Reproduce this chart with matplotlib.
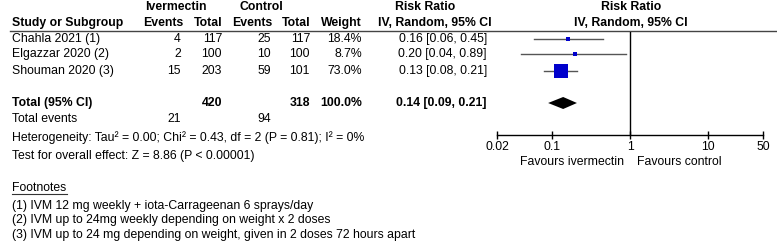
import matplotlib
matplotlib.use('Agg')
import matplotlib.pyplot as plt
import numpy as np

plt.rcParams['font.family'] = ['Liberation Sans', 'DejaVu Sans']
plt.rcParams['font.size'] = 8.8

# data
studies = ['Chahla 2021 (1)', 'Elgazzar 2020 (2)', 'Shouman 2020 (3)']
ivm_events = [4, 2, 15]
ivm_total = [117, 100, 203]
ctl_events = [25, 10, 59]
ctl_total = [117, 100, 101]
weights = [18.4, 8.7, 73.0]
rr = [0.16, 0.20, 0.13]
rr_lo = [0.06, 0.04, 0.08]
rr_hi = [0.45, 0.89, 0.21]
pooled = (0.14, 0.09, 0.21)
tot_ivm, tot_ctl = 420, 318
ev_ivm, ev_ctl = 21, 94
ticks = [0.02, 0.1, 1, 10, 50]
tick_labels = ['0.02', '0.1', '1', '10', '50']
footnotes = ['(1) IVM 12 mg weekly + iota-Carrageenan 6 sprays/day',
             '(2) IVM up to 24mg weekly depending on weight x 2 doses',
             '(3) IVM up to 24 mg depending on weight, given in 2 doses 72 hours apart']

W, H = 777, 246
fig = plt.figure(figsize=(W / 100, H / 100), dpi=100)
ax = fig.add_axes([0, 0, 1, 1])
ax.set_xlim(0, W)
ax.set_ylim(H, 0)
ax.axis('off')

row_y = [39, 54, 71]
tot_y = 103
bold = dict(fontweight='bold')

# headers
ax.text(176, 7, 'Ivermectin', ha='center', va='center', **bold)
ax.text(261, 7, 'Control', ha='center', va='center', **bold)
ax.text(425, 7, 'Risk Ratio', ha='center', va='center', **bold)
ax.text(631, 7, 'Risk Ratio', ha='center', va='center', **bold)
ax.text(12, 23, 'Study or Subgroup', ha='left', va='center', **bold)
for x, s in [(183, 'Events'), (222, 'Total'), (272, 'Events'), (310, 'Total'), (362, 'Weight')]:
    ax.text(x, 23, s, ha='right', va='center', **bold)
ax.text(492, 23, 'IV, Random, 95% CI', ha='right', va='center', **bold)
ax.text(631, 23, 'IV, Random, 95% CI', ha='center', va='center', **bold)
ax.plot([10, 777], [31, 31], color='#444444', lw=1)

# study rows
for i, y in enumerate(row_y):
    ax.text(12, y, studies[i], ha='left', va='center')
    ax.text(181, y, str(ivm_events[i]), ha='right', va='center')
    ax.text(222, y, str(ivm_total[i]), ha='right', va='center')
    ax.text(271, y, str(ctl_events[i]), ha='right', va='center')
    ax.text(310, y, str(ctl_total[i]), ha='right', va='center')
    ax.text(362, y, f'{weights[i]:.1f}%', ha='right', va='center')
    ax.text(487, y, f'{rr[i]:.2f} [{rr_lo[i]:.2f}, {rr_hi[i]:.2f}]', ha='right', va='center')

ax.text(12, tot_y, 'Total (95% CI)', ha='left', va='center', **bold)
ax.text(222, tot_y, str(tot_ivm), ha='right', va='center', **bold)
ax.text(310, tot_y, str(tot_ctl), ha='right', va='center', **bold)
ax.text(362, tot_y, '100.0%', ha='right', va='center', **bold)
ax.text(487, tot_y, f'{pooled[0]:.2f} [{pooled[1]:.2f}, {pooled[2]:.2f}]', ha='right', va='center', **bold)

ax.text(12, 119, 'Total events', ha='left', va='center')
ax.text(181, 119, str(ev_ivm), ha='right', va='center')
ax.text(271, 119, str(ev_ctl), ha='right', va='center')
ax.text(12, 138, 'Heterogeneity: Tau\u00b2 = 0.00; Chi\u00b2 = 0.43, df = 2 (P = 0.81); I\u00b2 = 0%',
        ha='left', va='center')
ax.text(12, 156, 'Test for overall effect: Z = 8.86 (P < 0.00001)', ha='left', va='center')

ax.text(12, 188, 'Footnotes', ha='left', va='center')
ax.plot([12, 67], [194, 194], color='#333333', lw=0.8)
for k, s in enumerate(footnotes):
    ax.text(12, 206 + k * 14.5, s, ha='left', va='center')

# forest axes: log scale, x pixel 497..763, y pixel 32..135
x0, x1, y0, y1 = 497, 763, 32, 135
fx = fig.add_axes([x0 / W, 1 - y1 / H, (x1 - x0) / W, (y1 - y0) / H])
fx.set_xscale('log')
fx.set_xlim(0.02, 50)
fx.set_ylim(y1, y0)
fx.patch.set_alpha(0)
for sp in ['top', 'left', 'right']:
    fx.spines[sp].set_visible(False)
fx.spines['bottom'].set_linewidth(1)
fx.set_xticks(ticks)
fx.set_xticklabels(tick_labels)
fx.xaxis.set_minor_locator(matplotlib.ticker.NullLocator())
fx.tick_params(axis='x', direction='inout', length=6, width=1, pad=1, labelsize=8.8)
fx.set_yticks([])
fx.axvline(1, color='black', lw=1)

for i, y in enumerate(row_y):
    fx.plot([rr_lo[i], rr_hi[i]], [y, y], color='#555555', lw=1)
    ms = 1.2 + weights[i] * 0.125
    fx.plot(rr[i], y, marker='s', color='#0000cc', markersize=ms, markeredgewidth=0)

est, lo, hi = pooled
fx.fill([lo, est, hi, est], [tot_y, tot_y - 6, tot_y, tot_y + 6], color='black', lw=0)

ax.text(624, 162, 'Favours ivermectin', ha='right', va='center')
ax.text(637, 162, 'Favours control', ha='left', va='center')

fig.savefig('out.png', dpi=100)
